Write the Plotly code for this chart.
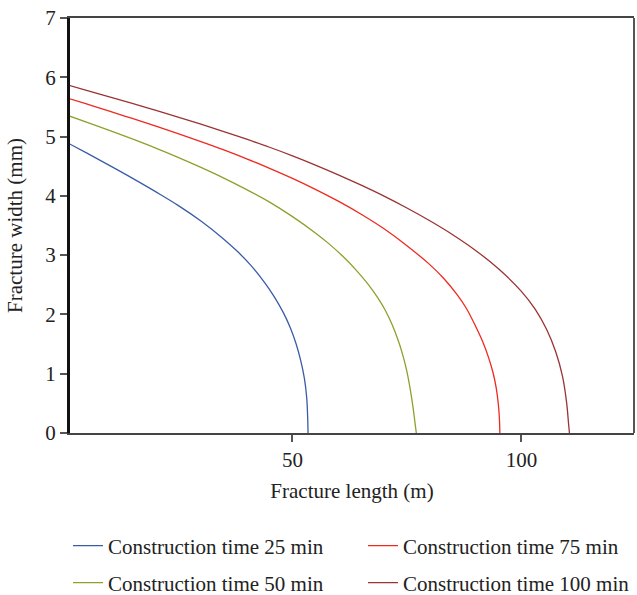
import plotly.graph_objects as go

# Fracture width profiles along the fracture length for each construction time
x_25 = [0, 5, 10, 15, 20, 25, 30, 35, 38, 41, 44, 46, 48, 49.5, 50.8, 51.8, 52.6, 53.1, 53.3, 53.4]
w_25 = [4.93, 4.725, 4.515, 4.30, 4.075, 3.84, 3.575, 3.27, 3.06, 2.82, 2.53, 2.30, 2.03, 1.78, 1.50, 1.22, 0.92, 0.60, 0.30, 0.0]

x_50 = [0, 5, 10, 15, 20, 25, 30, 35, 40, 45, 50, 55, 58, 61, 64, 66.5, 68.5, 70.3, 71.8, 73,
        74, 74.9, 75.7, 76.3, 76.75, 77.05]
w_50 = [5.38, 5.245, 5.105, 4.96, 4.81, 4.65, 4.48, 4.30, 4.105, 3.895, 3.65, 3.375, 3.19, 2.98, 2.74, 2.51, 2.295, 2.066, 1.82, 1.58,
        1.34, 1.07, 0.75, 0.45, 0.18, 0.0]

x_75 = [0, 5, 10, 15, 20, 25, 30, 35, 40, 45, 50, 55, 60, 65, 70, 75, 80, 83, 86, 88,
        90, 91.6, 92.8, 93.8, 94.5, 95.0, 95.2, 95.3]
w_75 = [5.67, 5.55, 5.43, 5.305, 5.18, 5.05, 4.915, 4.775, 4.625, 4.465, 4.295, 4.11, 3.91, 3.69, 3.445, 3.16, 2.84, 2.61, 2.33, 2.10,
        1.80, 1.53, 1.28, 1.02, 0.76, 0.46, 0.24, 0.0]

x_100 = [0, 5, 10, 15, 20, 25, 30, 35, 40, 45, 50, 55, 60, 65, 70, 75, 80, 85, 90, 95,
         100, 103, 105.5, 107.5, 109, 109.9, 110.3, 110.5]
w_100 = [5.89, 5.78, 5.67, 5.56, 5.445, 5.33, 5.21, 5.085, 4.955, 4.82, 4.675, 4.52, 4.355, 4.18, 3.995, 3.795, 3.58, 3.345, 3.08, 2.77,
         2.39, 2.09, 1.75, 1.37, 0.95, 0.50, 0.16, 0.0]

# (label, x, width, colour, legend box)
series = [
    ("Construction time 25 min", x_25, w_25, "#3a5ca6", "legend"),
    ("Construction time 50 min", x_50, w_50, "#8aa22c", "legend3"),
    ("Construction time 75 min", x_75, w_75, "#ee2a1f", "legend2"),
    ("Construction time 100 min", x_100, w_100, "#9a3333", "legend4"),
]

x_ticks = [50, 100]
y_ticks = [0, 1, 2, 3, 4, 5, 6, 7]

FONT = "Liberation Serif"
FS = 21

fig = go.Figure()
for name, xs, ws, color, lg in series:
    fig.add_trace(go.Scatter(
        x=xs, y=ws, mode="lines", name=name, legend=lg,
        line=dict(color=color, width=1.3, shape="spline", smoothing=1.0),
    ))

legend_style = dict(
    orientation="h", xanchor="left", yanchor="middle", yref="container",
    font=dict(family=FONT, size=FS, color="#222"),
    bgcolor="rgba(0,0,0,0)",
)
col1, col2 = -0.0035, 0.5195
row1, row2 = 0.0824, 0.0202

fig.update_layout(
    width=637, height=595,
    margin=dict(l=70, r=3, t=18, b=162),
    paper_bgcolor="white", plot_bgcolor="white",
    font=dict(family=FONT, size=FS, color="#222"),
    showlegend=True,
    legend=dict(x=col1, y=row1, **legend_style),
    legend2=dict(x=col2, y=row1, **legend_style),
    legend3=dict(x=col1, y=row2, **legend_style),
    legend4=dict(x=col2, y=row2, **legend_style),
)

fig.update_xaxes(
    range=[1.4, 124.6], tickvals=x_ticks, showgrid=False, zeroline=False,
    showline=True, linecolor="#444", linewidth=2, mirror=True,
    ticks="outside", ticklen=7, tickwidth=2, tickcolor="#555",
    title=dict(text="Fracture length (m)", font=dict(size=FS), standoff=12),
    tickfont=dict(size=FS), automargin=False,
)
fig.update_yaxes(
    range=[0, 7], tickvals=y_ticks, showgrid=False, zeroline=False,
    showline=True, linecolor="#111", linewidth=3,
    ticks="outside", ticklen=7, tickwidth=1.5, tickcolor="#555",
    title=dict(text="Fracture width (mm)", font=dict(size=FS), standoff=17),
    tickfont=dict(size=FS), automargin=False,
)

# right border of the plot frame
fig.add_shape(type="line", xref="paper", yref="paper", x0=1, x1=1, y0=0, y1=1,
              line=dict(color="#555", width=2))

fig.write_html("out.html")
